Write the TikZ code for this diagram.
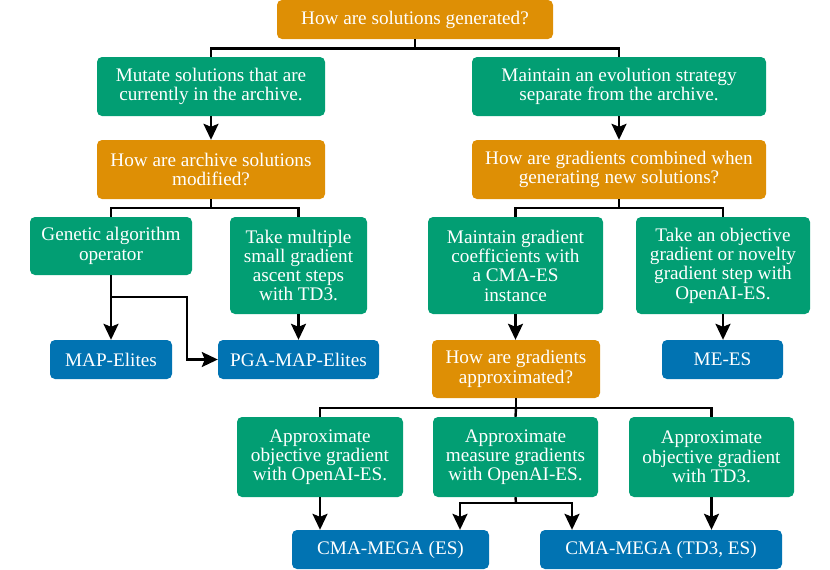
\documentclass[tikz,border=0pt]{standalone}
\usepackage{fontspec}
\setmainfont{Liberation Serif}
\usetikzlibrary{arrows.meta}
\definecolor{qorange}{HTML}{DE8F05}
\definecolor{qgreen}{HTML}{029E73}
\definecolor{qblue}{HTML}{0173B2}
\tikzset{
  box/.style={rounded corners=5pt, inner sep=0pt, align=center, text=white,
    font=\fontsize{19.2}{19.3}\selectfont},
  qbox/.style={box, fill=qorange},
  gbox/.style={box, fill=qgreen},
  bbox/.style={box, fill=qblue},
  link/.style={draw=black, line width=2.4pt},
  arr/.style={link, -{Stealth[length=16pt, width=15pt, inset=3pt]}},
}
\begin{document}
\begin{tikzpicture}[x=1pt, y=-1pt]
\useasboundingbox (0,0) rectangle (830,570);
% nodes
\node[qbox, minimum width=276pt, minimum height=39pt] (q1) at (415,19.5) {How are solutions generated?};
\node[gbox, minimum width=228pt, minimum height=59pt] (a1) at (211,86.5) {Mutate solutions that are\\currently in the archive.};
\node[gbox, minimum width=294pt, minimum height=59pt] (a2) at (619,86.5) {Maintain an evolution strategy\\separate from the archive.};
\node[qbox, minimum width=228pt, minimum height=59pt] (q2) at (211,169.5) {How are archive solutions\\modified?};
\node[qbox, minimum width=294pt, minimum height=59pt] (q3) at (619,169.5) {How are gradients combined when\\generating new solutions?};
\node[gbox, minimum width=162pt, minimum height=58pt] (b1) at (111,246) {Genetic algorithm\\operator\vphantom{p}};
\node[gbox, minimum width=137pt, minimum height=97pt] (b2) at (298.5,265.5) {Take multiple\\small gradient\\ascent steps\\with TD3.};
\node[gbox, minimum width=175pt, minimum height=97pt] (b3) at (515.5,265.5) {Maintain gradient\\coefficients with\\a CMA-ES\\instance};
\node[gbox, minimum width=174pt, minimum height=97pt] (b4) at (723,265.5) {Take an objective\\gradient or novelty\\gradient step with\\OpenAI-ES.};
\node[bbox, minimum width=122pt, minimum height=39pt] (r1) at (111,359.5) {MAP-Elites};
\node[bbox, minimum width=161pt, minimum height=39pt] (r2) at (298.5,359.5) {PGA-MAP-Elites};
\node[qbox, minimum width=168pt, minimum height=58pt] (q4) at (516,369) {How are gradients\\approximated?};
\node[bbox, minimum width=121pt, minimum height=39pt] (r3) at (722.5,359.5) {ME-ES};
\node[gbox, minimum width=166pt, minimum height=80pt] (c1) at (320,457) {Approximate\\objective gradient\\with OpenAI-ES.};
\node[gbox, minimum width=165pt, minimum height=80pt] (c2) at (515.5,457) {Approximate\\measure gradients\\with OpenAI-ES.};
\node[gbox, minimum width=165pt, minimum height=80pt] (c3) at (711.5,457) {Approximate\\objective gradient\\with TD3.};
\node[bbox, minimum width=197pt, minimum height=39pt] (r4) at (390.5,549.5) {CMA-MEGA (ES)};
\node[bbox, minimum width=242pt, minimum height=39pt] (r5) at (661,549.5) {CMA-MEGA (TD3, ES)};
% helper coordinates
\coordinate (j1) at (415,48.5);
\coordinate (j2) at (211,208);
\coordinate (j3) at (619,208);
\coordinate (g1) at (111,297);
\coordinate (g2) at (187,297);
\coordinate (j4) at (516,408);
\coordinate (k1) at (516,503);
\coordinate (k2) at (460,503);
\coordinate (k3) at (572,503);
% connectors
\draw[link] (q1.south) -- (j1);
\draw[link] (j1) -| (a1.north);
\draw[link] (j1) -| (a2.north);
\draw[arr] (a1.south) -- (q2.north);
\draw[arr] (a2.south) -- (q3.north);
\draw[link] (q2.south) -- (j2);
\draw[link] (j2) -| (b1.north);
\draw[link] (j2) -| (b2.north);
\draw[link] (q3.south) -- (j3);
\draw[link] (j3) -| (b3.north);
\draw[link] (j3) -| (b4.north);
\draw[arr] (b1.south) -- (r1.north);
\draw[arr] (g1) -- (g2) |- (r2.west);
\draw[arr] (b2.south) -- (r2.north);
\draw[arr] (b3.south) -- (b3.south |- q4.north);
\draw[arr] (b4.south) -- (b4.south |- r3.north);
\draw[link] (q4.south) -- (j4);
\draw[link] (j4) -| (c1.north);
\draw[link] (j4) -| (c3.north);
\draw[link] (j4) -- (c2.north);
\draw[arr] (c1.south) -- (c1.south |- r4.north);
\draw[link] (c2.south) -- (k1);
\draw[arr] (k1) -- (k2) -- (k2 |- r4.north);
\draw[arr] (k1) -- (k3) -- (k3 |- r5.north);
\draw[arr] (c3.south) -- (c3.south |- r5.north);
\end{tikzpicture}
\end{document}
